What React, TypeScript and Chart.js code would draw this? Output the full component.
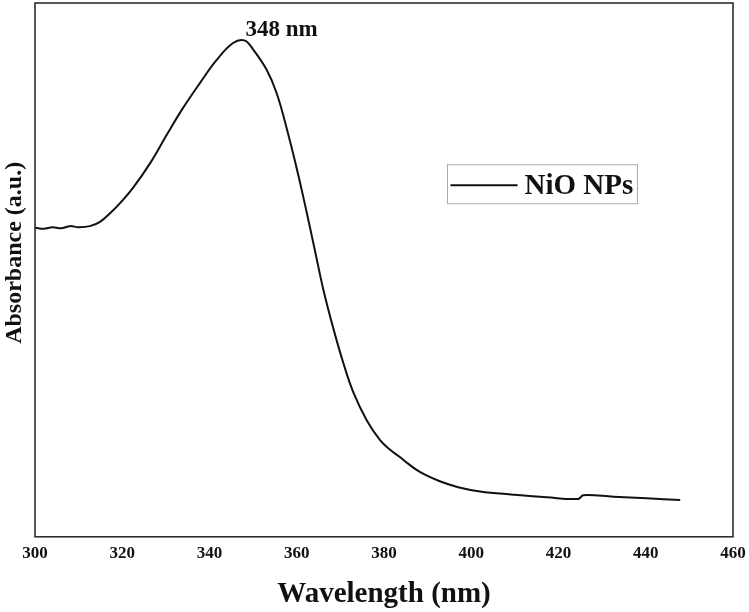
import React, { useEffect, useRef } from "react";
import { Chart, registerables } from "chart.js";

Chart.register(...registerables);

// UV-Vis absorption spectrum of NiO nanoparticles
const wavelengths: number[] = [
  300, 302, 304, 306, 308, 310, 312.6, 314.9, 317.2, 319.5, 322.5, 326.4, 330.2,
  333.9, 337.8, 341.6, 345.4, 348, 350, 353.1, 355.4, 357.7, 360, 362.3, 364.2,
  366.1, 368.4, 370.7, 373, 376, 379.1, 381.4, 383.7, 385.2, 388.3, 392.8, 397,
  402, 409.6, 417.3, 424.5, 425.7, 432.6, 440.2, 447.9,
];
const absorbance: number[] = [
  0.579, 0.577, 0.58, 0.578, 0.582, 0.58, 0.582, 0.59, 0.606, 0.625, 0.654, 0.7,
  0.753, 0.803, 0.85, 0.893, 0.925, 0.93, 0.913, 0.875, 0.831, 0.765, 0.69,
  0.607, 0.535, 0.463, 0.39, 0.325, 0.27, 0.219, 0.181, 0.163, 0.149, 0.139,
  0.121, 0.104, 0.093, 0.085, 0.079, 0.074, 0.071, 0.078, 0.075, 0.072, 0.069,
];
const seriesLabel = "NiO NPs";
const peakWavelength = 348;
const peakLabel = "348 nm";
const yTitle = "Absorbance (a.u.)";
const xTicks: number[] = [300, 320, 340, 360, 380, 400, 420, 440, 460];

const SERIF = "'Liberation Serif', 'Times New Roman', serif";

// Frame around the plotting area, y-axis title, peak annotation and boxed legend
const decorations = {
  id: "decorations",
  afterDraw(chart: any) {
    const { ctx, chartArea, scales } = chart;
    const { left, top, right, bottom } = chartArea;
    const w = right - left;
    const h = bottom - top;
    ctx.save();

    ctx.strokeStyle = "#222";
    ctx.lineWidth = 1.5;
    ctx.strokeRect(left, top, w, h);

    // rotated y-axis title
    ctx.save();
    ctx.translate(left - 20, top + 0.468 * h);
    ctx.rotate(-Math.PI / 2);
    ctx.fillStyle = "#111";
    ctx.font = `bold 24px ${SERIF}`;
    ctx.textAlign = "center";
    ctx.textBaseline = "middle";
    ctx.fillText(yTitle, 0, 0);
    ctx.restore();

    const peakIdx = wavelengths.indexOf(peakWavelength);
    const px = scales.x.getPixelForValue(peakWavelength);
    const py = scales.y.getPixelForValue(absorbance[peakIdx]);
    ctx.fillStyle = "#111";
    ctx.font = `bold 23px ${SERIF}`;
    ctx.textAlign = "left";
    ctx.textBaseline = "alphabetic";
    ctx.fillText(peakLabel, px + 1, py - 4);

    const bx = left + 0.591 * w;
    const by = top + 0.303 * h;
    const bw = 190;
    const bh = 39;
    ctx.strokeStyle = "#aaa";
    ctx.lineWidth = 1;
    ctx.strokeRect(bx, by, bw, bh);
    ctx.strokeStyle = "#111";
    ctx.lineWidth = 2;
    ctx.beginPath();
    ctx.moveTo(bx + 3, by + bh / 2 + 1);
    ctx.lineTo(bx + 70, by + bh / 2 + 1);
    ctx.stroke();
    ctx.font = `bold 29px ${SERIF}`;
    ctx.textAlign = "left";
    ctx.textBaseline = "middle";
    ctx.fillText(seriesLabel, bx + 77, by + bh / 2 + 2);

    ctx.restore();
  },
};

export default function App() {
  const canvasRef = useRef<HTMLCanvasElement | null>(null);

  useEffect(() => {
    document.body.style.margin = "0";
    const canvas = canvasRef.current;
    if (!canvas) return;
    const chart = new Chart(canvas, {
      type: "line",
      data: {
        datasets: [
          {
            label: seriesLabel,
            data: wavelengths.map((x, i) => ({ x, y: absorbance[i] })),
            borderColor: "#111",
            borderWidth: 2,
            pointRadius: 0,
            fill: false,
            tension: 0.4,
          },
        ],
      },
      options: {
        animation: false,
        responsive: false,
        maintainAspectRatio: false,
        layout: { padding: { left: 35, right: 16, top: 3, bottom: 0 } },
        plugins: {
          legend: { display: false },
          tooltip: { enabled: false },
        },
        scales: {
          x: {
            type: "linear",
            min: 300,
            max: 460,
            afterBuildTicks: (axis: any) => {
              axis.ticks = xTicks.map((value) => ({ value }));
            },
            afterFit: (axis: any) => {
              axis.paddingLeft = 0;
              axis.paddingRight = 0;
            },
            grid: { display: false, drawTicks: false },
            border: { display: false },
            ticks: {
              padding: 7,
              color: "#111",
              font: { family: SERIF, size: 17, weight: "bold" },
            },
            title: {
              display: true,
              text: "Wavelength (nm)",
              color: "#111",
              font: { family: SERIF, size: 29, weight: "bold" },
              padding: { top: 6, bottom: 0 },
            },
          },
          y: {
            display: false,
            min: 0,
            max: 1,
          },
        },
      },
      plugins: [decorations],
    });
    return () => chart.destroy();
  }, []);

  return (
    <div style={{ width: 749, height: 612, background: "#fff" }}>
      <canvas ref={canvasRef} width={749} height={612} />
    </div>
  );
}
